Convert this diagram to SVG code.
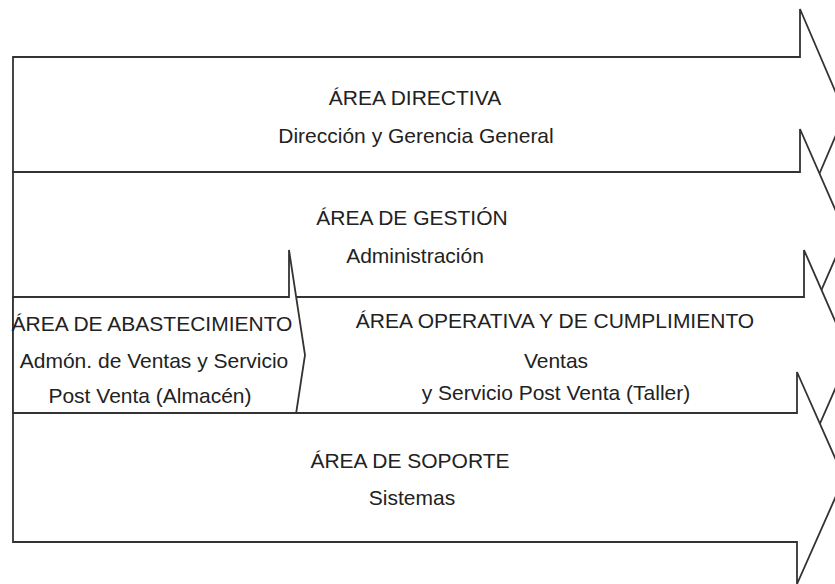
<svg xmlns="http://www.w3.org/2000/svg" width="835" height="584" viewBox="0 0 835 584">
<style>
.arr{fill:#fff;stroke:#333;stroke-width:1.8;stroke-linejoin:miter}
.t{font-family:"Liberation Sans",Arial,sans-serif;font-size:21px;fill:#222;text-anchor:middle}
</style>
<rect width="835" height="584" fill="#fff"/>
<g id="area-directiva">
<polygon class="arr" points="13,57 800,57 800,9 845,114 800,219 800,172 13,172"/>
<text class="t" x="415" y="105">ÁREA DIRECTIVA</text>
<text class="t" x="416" y="143">Dirección y Gerencia General</text>
</g>
<g id="area-gestion">
<polygon class="arr" points="13,172 800,172 800,129 846,234 800,339 800,297 13,297"/>
<text class="t" x="412" y="225">ÁREA DE GESTIÓN</text>
<text class="t" x="415" y="263">Administración</text>
</g>
<g id="area-operativa">
<polygon class="arr" points="13,297 804,297 804,250 850,355 804,460 804,413 13,413"/>
<text class="t" x="555" y="328">ÁREA OPERATIVA Y DE CUMPLIMIENTO</text>
<text class="t" x="556" y="368">Ventas</text>
<text class="t" x="556" y="400">y Servicio Post Venta (Taller)</text>
</g>
<g id="area-abastecimiento">
<polygon class="arr" points="13,297 289,297 289,250 305,355 289,460 289,413 13,413"/>
<text class="t" x="152" y="331">ÁREA DE ABASTECIMIENTO</text>
<text class="t" x="154" y="368">Admón. de Ventas y Servicio</text>
<text class="t" x="150" y="403">Post Venta (Almacén)</text>
</g>
<g id="area-soporte">
<polygon class="arr" points="13,413 797,413 797,372 844,478 797,584 797,542 13,542"/>
<text class="t" x="410" y="468">ÁREA DE SOPORTE</text>
<text class="t" x="412" y="505">Sistemas</text>
</g>
</svg>
